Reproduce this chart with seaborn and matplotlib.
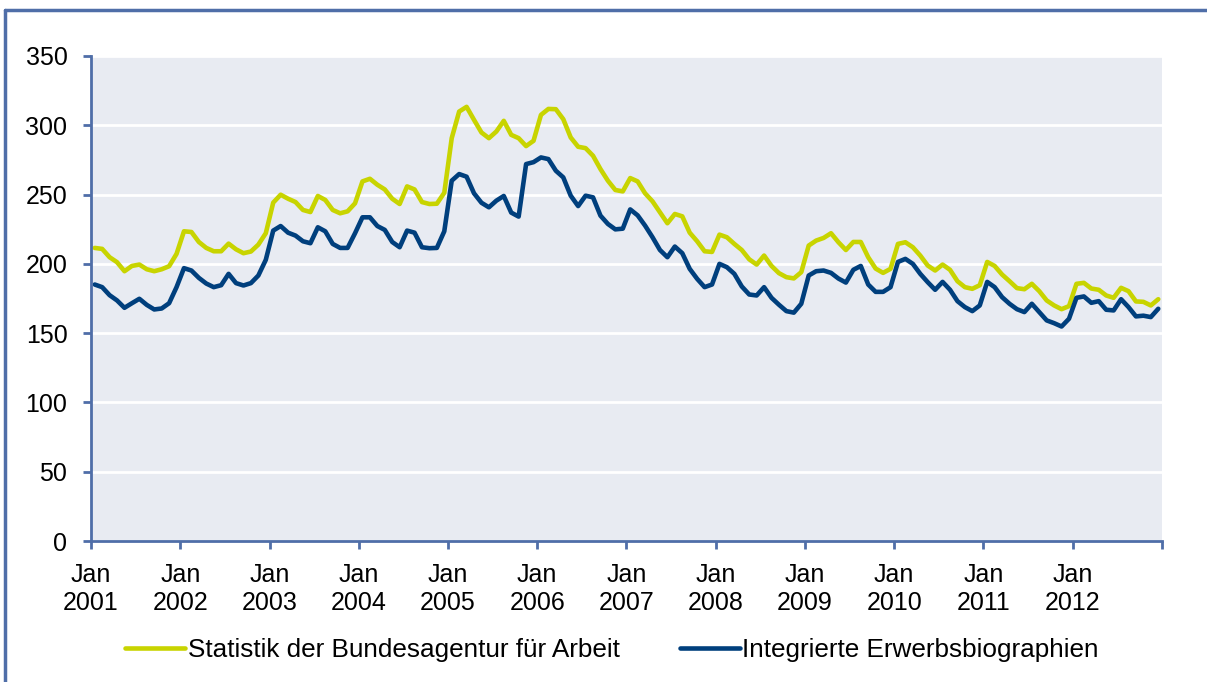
import matplotlib
matplotlib.use("Agg")
import matplotlib.pyplot as plt
from matplotlib.lines import Line2D
import numpy as np
import pandas as pd
import seaborn as sns

# Monatswerte Jan 2001 - Dez 2012
ba_statistik = [
    211.5, 210.8, 204.8, 201.2, 194.7, 198.5, 199.5, 196.1, 194.7, 196.1, 198.3, 207.2,
    223.5, 223.0, 215.8, 211.5, 209.1, 209.1, 214.6, 210.5, 207.7, 208.9, 213.9, 222.1,
    244.2, 249.9, 247.0, 244.6, 238.9, 237.4, 249.0, 246.1, 238.9, 236.5, 237.9, 243.7,
    259.5, 261.4, 257.1, 253.7, 247.0, 243.2, 255.9, 253.7, 244.6, 243.2, 243.4, 251.3,
    290.7, 309.9, 313.3, 303.9, 294.8, 290.7, 295.5, 303.2, 293.1, 290.7, 285.0, 288.8,
    307.5, 311.8, 311.6, 304.4, 291.2, 284.5, 283.5, 278.0, 268.4, 260.0, 253.3, 252.3,
    261.9, 259.5, 250.9, 245.1, 237.2, 229.3, 236.0, 234.3, 222.5, 216.3, 209.1, 208.6,
    221.1, 219.2, 214.4, 210.0, 203.3, 199.5, 206.0, 198.5, 193.3, 190.4, 189.5, 194.0,
    213.2, 216.8, 218.7, 222.1, 215.6, 210.0, 215.8, 215.8, 204.8, 196.6, 193.5, 196.4,
    214.4, 215.6, 212.0, 206.0, 198.8, 195.2, 199.5, 195.7, 187.5, 183.2, 182.0, 184.6,
    201.4, 198.5, 192.3, 187.5, 182.5, 181.7, 185.6, 180.3, 173.6, 170.0, 167.3, 169.5,
    185.6, 186.3, 182.2, 181.3, 177.2, 175.5, 182.7, 180.3, 172.9, 172.6, 170.0, 174.5,
]

ieb = [
    185.1, 183.2, 177.4, 173.6, 168.3, 171.6, 174.8, 170.4, 167.1, 167.8, 171.6, 183.2,
    196.9, 195.2, 189.9, 185.8, 183.2, 184.6, 192.8, 186.1, 184.4, 186.1, 191.6, 202.9,
    224.0, 227.3, 222.5, 220.4, 216.3, 214.9, 226.4, 223.5, 214.4, 211.5, 211.5, 222.1,
    233.6, 233.6, 227.3, 224.5, 215.8, 212.0, 224.0, 222.5, 212.0, 211.3, 211.5, 223.5,
    260.0, 264.8, 262.9, 250.9, 244.1, 240.8, 245.6, 249.0, 237.0, 234.1, 272.0, 273.4,
    276.8, 275.6, 267.2, 262.4, 249.2, 241.7, 249.2, 248.0, 234.8, 228.8, 224.9, 225.4,
    239.3, 235.0, 227.6, 219.2, 210.0, 204.8, 212.5, 207.7, 196.4, 189.2, 183.2, 185.1,
    200.0, 197.6, 192.8, 183.7, 177.9, 177.2, 183.2, 175.5, 170.5, 165.9, 164.8, 171.2,
    191.6, 194.7, 195.2, 193.5, 189.4, 186.5, 195.7, 198.5, 185.1, 179.8, 179.8, 183.2,
    201.4, 203.6, 200.0, 192.8, 186.8, 181.3, 187.0, 181.3, 173.1, 168.8, 165.9, 170.0,
    187.0, 183.2, 176.0, 171.2, 167.3, 165.2, 171.2, 165.2, 159.2, 157.2, 154.8, 160.4,
    175.5, 176.5, 171.9, 173.1, 166.9, 166.4, 174.5, 168.8, 162.1, 162.6, 161.6, 167.6,
]

years = [str(y) for y in range(2001, 2013)]
series_names = ["Statistik der Bundesagentur für Arbeit", "Integrierte Erwerbsbiographien"]

# Daten in langes Format
months = np.arange(len(ba_statistik))
df = pd.DataFrame({
    "monat": np.concatenate([months, months]),
    "wert": ba_statistik + ieb,
    "quelle": [series_names[0]] * len(ba_statistik) + [series_names[1]] * len(ieb),
})

sns.set_style("darkgrid", {"axes.facecolor": "#E8EBF2", "grid.color": "white"})
plt.rcParams["font.family"] = ["Liberation Sans", "DejaVu Sans"]

axis_col = "#4F6EA8"
fig = plt.figure(figsize=(12.07, 6.82), dpi=100)
ax = fig.add_axes([0.0754, 0.2067, 0.8873, 0.7112])

sns.lineplot(data=df, x="monat", y="wert", hue="quelle",
             palette=["#C8D400", "#003F7D"], linewidth=3.3, ax=ax)

ax.set_xlim(-0.5, len(ba_statistik) - 0.5)
ax.set_ylim(0, 350)
ax.set_yticks(range(0, 351, 50))
xt = [-0.5 + 12 * k for k in range(13)]
ax.set_xticks(xt)
ax.set_xticklabels(["Jan\n" + y for y in years] + [""])
ax.set_xlabel("")
ax.set_ylabel("")

ax.grid(axis="x", visible=False)
ax.grid(axis="y", color="white", linewidth=2)

for s in ["top", "right"]:
    ax.spines[s].set_visible(False)
for s in ["left", "bottom"]:
    ax.spines[s].set_visible(True)
    ax.spines[s].set_color(axis_col)
    ax.spines[s].set_linewidth(2)

ax.tick_params(axis="both", direction="out", length=6, width=2, color=axis_col,
               labelsize=18, labelcolor="black")
ax.tick_params(axis="x", pad=10)
ax.tick_params(axis="y", pad=11)
ax.tick_params(bottom=True, left=True)

leg = ax.legend(loc="center", bbox_to_anchor=(0.507, 0.047), bbox_transform=fig.transFigure,
                ncol=2, frameon=False, fontsize=18.8, handlelength=2.3, handletextpad=0.1,
                columnspacing=2.3)
for t in leg.get_texts():
    t.set_color("black")

# Rahmen um die Grafik (oben/links sichtbar)
fig.add_artist(Line2D([0.004, 0.004], [0.0, 0.985], transform=fig.transFigure,
                      color=axis_col, linewidth=2.5))
fig.add_artist(Line2D([0.004, 1.0], [0.985, 0.985], transform=fig.transFigure,
                      color=axis_col, linewidth=2.5))

fig.savefig("out.png", dpi=100)
